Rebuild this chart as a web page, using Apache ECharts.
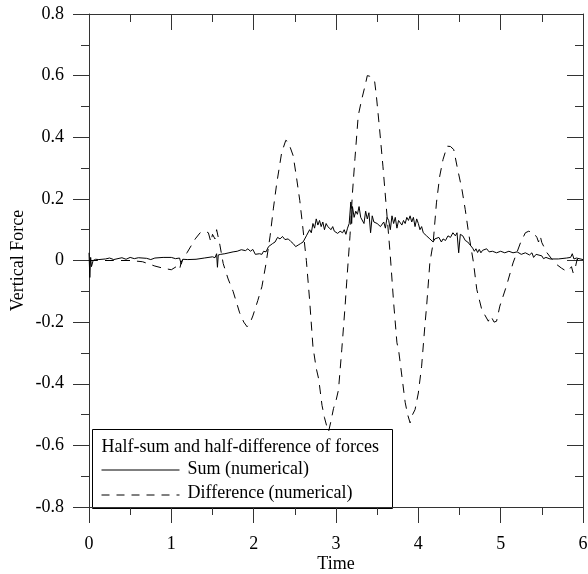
<!DOCTYPE html>
<html>
<head>
<meta charset="utf-8">
<script src="https://cdn.jsdelivr.net/npm/echarts@6/dist/echarts.min.js"></script>
<style>
  html, body { margin: 0; padding: 0; background: #fff; }
  #main { width: 588px; height: 574px; }
</style>
</head>
<body>
<div id="main"></div>
<script>
// half-sum of forces, [time, value]
var sumData = [
  [0.0, 0.025], [0.01, -0.055], [0.02, 0.01], [0.03, -0.02], [0.05, 0.0], [0.08, 0.004],
  [0.12, 0.003], [0.2, 0.005], [0.25, 0.008], [0.3, 0.003], [0.4, 0.009], [0.45, 0.004],
  [0.5, 0.01], [0.55, 0.006], [0.6, 0.009], [0.7, 0.007], [0.75, 0.003], [0.8, 0.008],
  [0.9, 0.01], [1.0, 0.01], [1.05, 0.006], [1.1, 0.008], [1.12, -0.012], [1.14, 0.004],
  [1.2, 0.003], [1.3, 0.004], [1.4, 0.008], [1.5, 0.012], [1.53, 0.009], [1.55, 0.022],
  [1.56, -0.022], [1.57, 0.018], [1.6, 0.02], [1.65, 0.022], [1.7, 0.025], [1.75, 0.028],
  [1.8, 0.03], [1.85, 0.035], [1.9, 0.032], [1.93, 0.038], [1.96, 0.03], [1.99, 0.036],
  [2.02, 0.02], [2.04, 0.017], [2.07, 0.022], [2.1, 0.02], [2.12, 0.03], [2.15, 0.028],
  [2.18, 0.045], [2.2, 0.04], [2.23, 0.055], [2.26, 0.06], [2.29, 0.075], [2.32, 0.07],
  [2.35, 0.078], [2.38, 0.068], [2.42, 0.07], [2.45, 0.062], [2.48, 0.055], [2.51, 0.045],
  [2.54, 0.05], [2.57, 0.055], [2.6, 0.06], [2.62, 0.055], [2.64, 0.08], [2.66, 0.075],
  [2.68, 0.1], [2.7, 0.09], [2.72, 0.12], [2.74, 0.105], [2.76, 0.135], [2.78, 0.115],
  [2.8, 0.13], [2.82, 0.11], [2.84, 0.125], [2.86, 0.1], [2.88, 0.12], [2.9, 0.11],
  [2.92, 0.115], [2.94, 0.1], [2.96, 0.11], [2.98, 0.095], [3.0, 0.1], [3.02, 0.088],
  [3.05, 0.095], [3.08, 0.09], [3.1, 0.1], [3.12, 0.085], [3.14, 0.105], [3.16, 0.12],
  [3.18, 0.19], [3.19, 0.12], [3.2, 0.175], [3.22, 0.14], [3.24, 0.16], [3.26, 0.15],
  [3.28, 0.175], [3.3, 0.14], [3.32, 0.145], [3.34, 0.12], [3.36, 0.16], [3.38, 0.135],
  [3.4, 0.155], [3.42, 0.09], [3.44, 0.145], [3.46, 0.125], [3.48, 0.13], [3.5, 0.12],
  [3.52, 0.125], [3.54, 0.11], [3.56, 0.115], [3.58, 0.125], [3.6, 0.105], [3.62, 0.14],
  [3.64, 0.13], [3.66, 0.1], [3.68, 0.145], [3.7, 0.12], [3.72, 0.14], [3.74, 0.105],
  [3.76, 0.13], [3.78, 0.125], [3.8, 0.115], [3.82, 0.13], [3.84, 0.12], [3.86, 0.14],
  [3.88, 0.13], [3.9, 0.145], [3.92, 0.125], [3.94, 0.14], [3.96, 0.11], [3.98, 0.135],
  [4.0, 0.12], [4.02, 0.1], [4.04, 0.11], [4.06, 0.09], [4.08, 0.095], [4.1, 0.08],
  [4.12, 0.085], [4.14, 0.07], [4.16, 0.075], [4.18, 0.06], [4.2, 0.07], [4.22, 0.065],
  [4.25, 0.075], [4.28, 0.06], [4.3, 0.07], [4.33, 0.065], [4.36, 0.08], [4.39, 0.075],
  [4.42, 0.09], [4.45, 0.08], [4.47, 0.09], [4.49, 0.025], [4.51, 0.085], [4.54, 0.08],
  [4.57, 0.065], [4.6, 0.06], [4.63, 0.05], [4.66, 0.04], [4.68, 0.03], [4.7, 0.038],
  [4.72, 0.026], [4.74, 0.036], [4.76, 0.025], [4.78, 0.033], [4.8, 0.03], [4.83, 0.038],
  [4.86, 0.028], [4.9, 0.03], [4.95, 0.025], [5.0, 0.03], [5.05, 0.025], [5.1, 0.03],
  [5.15, 0.025], [5.2, 0.028], [5.25, 0.02], [5.3, 0.025], [5.35, 0.018], [5.38, 0.025],
  [5.4, 0.01], [5.43, 0.02], [5.5, 0.015], [5.52, 0.006], [5.55, 0.01], [5.6, 0.005],
  [5.7, 0.005], [5.8, 0.008], [5.85, 0.01], [5.87, 0.022], [5.89, 0.005], [5.92, 0.008],
  [6.0, 0.003]
];

// half-difference of forces, [time, value]
var diffData = [
  [0, 0], [0.1, 0.0], [0.3, 0.0], [0.5, 0.0], [0.65, -0.004], [0.8, -0.018], [0.9, -0.025],
  [1.0, -0.03], [1.06, -0.02], [1.1, -0.03], [1.12, -0.005], [1.19, 0.025], [1.29, 0.07],
  [1.35, 0.09], [1.41, 0.095], [1.45, 0.09], [1.48, 0.06], [1.5, 0.085], [1.53, 0.07],
  [1.55, 0.1], [1.59, 0.05], [1.63, -0.01], [1.69, -0.06], [1.75, -0.1], [1.83, -0.17],
  [1.88, -0.2], [1.92, -0.215], [1.96, -0.2], [1.99, -0.18], [2.05, -0.13], [2.1, -0.085],
  [2.15, -0.01], [2.2, 0.08], [2.24, 0.17], [2.28, 0.25], [2.34, 0.35], [2.39, 0.39],
  [2.42, 0.385], [2.48, 0.34], [2.52, 0.27], [2.56, 0.195], [2.6, 0.1], [2.64, 0.0],
  [2.68, -0.13], [2.72, -0.28], [2.76, -0.35], [2.79, -0.385], [2.83, -0.47], [2.86, -0.51],
  [2.89, -0.54], [2.91, -0.555], [2.94, -0.52], [2.97, -0.48], [3.0, -0.455], [3.03, -0.42],
  [3.07, -0.29], [3.11, -0.15], [3.13, -0.07], [3.17, 0.08], [3.2, 0.22], [3.23, 0.33],
  [3.27, 0.47], [3.31, 0.52], [3.36, 0.575], [3.38, 0.6], [3.41, 0.598], [3.44, 0.585],
  [3.47, 0.58], [3.49, 0.535], [3.53, 0.425], [3.57, 0.306], [3.62, 0.144], [3.66, 0.014],
  [3.7, -0.137], [3.74, -0.267], [3.76, -0.29], [3.8, -0.375], [3.84, -0.46], [3.87, -0.5],
  [3.9, -0.527], [3.93, -0.5], [3.96, -0.484], [4.0, -0.43], [4.04, -0.343], [4.08, -0.21],
  [4.1, -0.15], [4.14, -0.007], [4.18, 0.057], [4.22, 0.187], [4.26, 0.274], [4.3, 0.328],
  [4.35, 0.371], [4.39, 0.37], [4.43, 0.36], [4.47, 0.306], [4.53, 0.23], [4.57, 0.165],
  [4.61, 0.09], [4.67, -0.007], [4.71, -0.094], [4.77, -0.159], [4.85, -0.197], [4.88, -0.18],
  [4.92, -0.2], [4.95, -0.197], [4.99, -0.148], [5.07, -0.083], [5.15, -0.008], [5.24, 0.057],
  [5.3, 0.09], [5.34, 0.095], [5.4, 0.09], [5.44, 0.075], [5.46, 0.06], [5.48, 0.08],
  [5.5, 0.058], [5.56, 0.026], [5.62, 0.005], [5.68, -0.013], [5.74, -0.025], [5.8, -0.035],
  [5.83, -0.03], [5.86, -0.02], [5.88, -0.04], [5.9, -0.03], [5.93, 0.005], [5.96, -0.01],
  [6.0, -0.005]
];

var legendTitle = 'Half-sum and half-difference of forces';
var seriesNames = ['Sum (numerical)', 'Difference (numerical)'];

var FONT = '"Liberation Serif", "Times New Roman", serif';
var FS = 18;
var axisCol = '#333';

var chart = echarts.init(document.getElementById('main'), null, { renderer: 'canvas' });

function axisBase(extra) {
  var a = {
    type: 'value',
    axisLine: { show: true, onZero: false, lineStyle: { color: axisCol, width: 1 } },
    splitLine: { show: false },
    minorTick: { show: true, splitNumber: 2, length: 8, lineStyle: { color: axisCol } },
    axisTick: { show: true, length: 16, lineStyle: { color: axisCol } },
    axisLabel: { color: '#000', fontFamily: FONT, fontSize: FS }
  };
  for (var k in extra) a[k] = extra[k];
  return a;
}

var option = {
  animation: false,
  backgroundColor: '#fff',
  grid: { left: 89, right: 5, top: 14, bottom: 67, containLabel: false, outerBoundsMode: 'none' },
  xAxis: [
    axisBase({
      min: 0, max: 6, interval: 1, position: 'bottom',
      name: 'Time', nameLocation: 'middle', nameGap: 48, nameMoveOverlap: false,
      nameTextStyle: { color: '#000', fontFamily: FONT, fontSize: FS },
      axisLabel: { color: '#000', fontFamily: FONT, fontSize: FS, margin: 28 }
    }),
    axisBase({
      min: 0, max: 6, interval: 1, position: 'top',
      axisTick: { show: true, inside: true, length: 16, lineStyle: { color: axisCol } },
      minorTick: { show: true, splitNumber: 2, length: 8, lineStyle: { color: axisCol } },
      axisLabel: { show: false }
    })
  ],
  yAxis: [
    axisBase({
      min: -0.8, max: 0.8, interval: 0.2, position: 'left',
      name: 'Vertical Force', nameLocation: 'middle', nameGap: 62, nameMoveOverlap: false,
      nameTextStyle: { color: '#000', fontFamily: FONT, fontSize: FS },
      axisLabel: {
        color: '#000', fontFamily: FONT, fontSize: FS, margin: 25,
        formatter: function (v) { return +v.toFixed(1) + ''; }
      }
    }),
    axisBase({
      min: -0.8, max: 0.8, interval: 0.2, position: 'right',
      axisTick: { show: true, inside: true, length: 16, lineStyle: { color: axisCol } },
      minorTick: { show: true, splitNumber: 2, length: 8, lineStyle: { color: axisCol } },
      axisLabel: { show: false }
    })
  ],
  series: [
    {
      name: seriesNames[0], type: 'line', data: sumData,
      showSymbol: false, symbol: 'none',
      lineStyle: { color: '#000', width: 1 }, z: 3
    },
    {
      name: seriesNames[1], type: 'line', data: diffData,
      showSymbol: false, symbol: 'none',
      lineStyle: { color: '#000', width: 1, type: [9, 7] }, z: 2
    }
  ],
  graphic: [
    {
      type: 'group', left: 92, top: 429, z: 100,
      children: [
        { type: 'rect', shape: { x: 0, y: 0, width: 300, height: 79 },
          style: { fill: '#fff', stroke: '#000', lineWidth: 1 } },
        { type: 'text', x: 9, y: 18,
          style: { text: legendTitle, fill: '#000', font: FS + 'px ' + FONT, textVerticalAlign: 'middle' } },
        { type: 'line', shape: { x1: 9, y1: 40.5, x2: 87, y2: 40.5 },
          style: { stroke: '#000', lineWidth: 1 } },
        { type: 'text', x: 95, y: 40,
          style: { text: seriesNames[0], fill: '#000', font: FS + 'px ' + FONT, textVerticalAlign: 'middle' } },
        { type: 'line', shape: { x1: 9, y1: 65.5, x2: 87, y2: 65.5 },
          style: { stroke: '#000', lineWidth: 1, lineDash: [8, 7] } },
        { type: 'text', x: 95, y: 64,
          style: { text: seriesNames[1], fill: '#000', font: FS + 'px ' + FONT, textVerticalAlign: 'middle' } }
      ]
    }
  ]
};

chart.setOption(option);
</script>
</body>
</html>
